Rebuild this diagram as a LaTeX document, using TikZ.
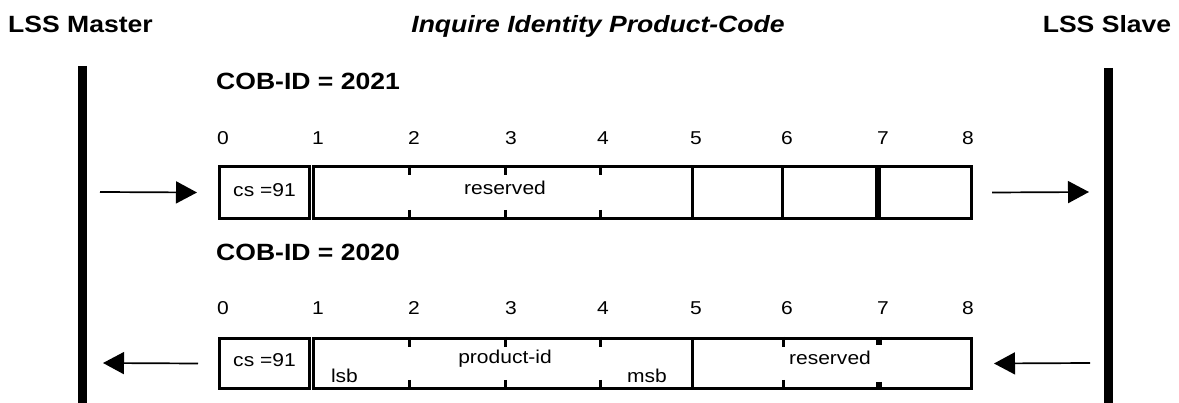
\documentclass[tikz,border=0pt]{standalone}
\usepackage{fontspec}
\setmainfont{Liberation Sans}[FakeStretch=1.13]
\usetikzlibrary{arrows.meta,fit}

\tikzset{
  cellbox/.style={draw=black, line width=3.4pt, inner sep=0pt},
  sep/.style={line width=3.4pt},
  lifeline/.style={line width=9.5pt},
  msg/.style={line width=1.7pt, -{Triangle[length=21pt 0 0,width=22pt 0 0]}},
  head/.style={font=\fontsize{23.5}{28}\selectfont\bfseries, inner sep=0pt},
  titlefont/.style={font=\fontsize{23.5}{28}\selectfont\bfseries\itshape, inner sep=0pt},
  lbl/.style={font=\fontsize{18.6}{22}\selectfont, inner sep=0pt},
}

\begin{document}
\begin{tikzpicture}[x=1pt,y=-1pt]
\useasboundingbox (0,0) rectangle (1179,403);

% headings
\node[head, anchor=base west] (master) at (8,33) {LSS Master};
\node[titlefont, anchor=base] (title) at (598,33) {Inquire Identity Product-Code};
\node[head, anchor=base] (slave) at (1107,33) {LSS Slave};

% lifelines
\coordinate (mtop) at (82.5,66);
\coordinate (mbot) at (82.5,403);
\coordinate (stop) at (1108.5,68);
\coordinate (sbot) at (1108.5,403);
\draw[lifeline] (mtop) -- (mbot);
\draw[lifeline] (stop) -- (sbot);

% ---------- request frame ----------
\node[head, anchor=base west] (cobreq) at (216,90) {COB-ID = 2021};
\foreach \i/\x in {0/217,1/312,2/408,3/505,4/597,5/690,6/781,7/877}
  \node[lbl, anchor=base west] (rq\i) at (\x,145) {\i};
\node[lbl, anchor=base east] (rq8) at (974,145) {8};

\node[cellbox, fit={(219.7,166.7) (309.3,218.3)}] (t0) {};
\node[cellbox, fit={(313.7,166.7) (692.5,218.3)}] (t1) {};
\node[cellbox, fit={(692.5,166.7) (782.5,218.3)}] (t5) {};
\node[cellbox, fit={(782.5,166.7) (876.5,218.3)}] (t6) {};
\node[cellbox, fit={(879.5,166.7) (971.3,218.3)}] (t7) {};
\foreach \x in {409.5,505.5,600.5} {
  \draw[sep] (\x,165) -- (\x,175);
  \draw[sep] (\x,210) -- (\x,220);
}
\node[lbl, anchor=base] (t0txt) at (264.5,197) {cs =91};
\node[lbl, anchor=base] (t1txt) at (505,195) {reserved};

% ---------- response frame ----------
\node[head, anchor=base west] (cobres) at (216,261) {COB-ID = 2020};
\foreach \i/\x in {0/217,1/312,2/408,3/505,4/597,5/690,6/781,7/877}
  \node[lbl, anchor=base west] (rs\i) at (\x,315) {\i};
\node[lbl, anchor=base east] (rs8) at (974,315) {8};

\node[cellbox, fit={(219.7,338.7) (309.3,388.3)}] (b0) {};
\node[cellbox, fit={(313.7,338.7) (692.5,388.3)}] (b1) {};
\node[cellbox, fit={(692.5,338.7) (971.3,388.3)}] (b5) {};
\foreach \x in {409.5,505.5,600.5,783.5} {
  \draw[sep] (\x,337) -- (\x,347);
  \draw[sep] (\x,380) -- (\x,390);
}
\draw[sep, line width=6pt] (878.5,337) -- (878.5,345);
\draw[sep, line width=6pt] (878.5,382) -- (878.5,390);
\node[lbl, anchor=base] (b0txt) at (264.5,367) {cs =91};
\node[lbl, anchor=base] (lsb) at (344.5,383) {lsb};
\node[lbl, anchor=base] (pid) at (505,364) {product-id};
\node[lbl, anchor=base] (msb) at (647,383) {msb};
\node[lbl, anchor=base] (b5txt) at (830,365) {reserved};

% ---------- messages ----------
\coordinate (reqfrom) at (100,192);
\coordinate (reqto) at (1089,192);
\coordinate (resfrom) at (1090,363);
\coordinate (resto) at (103,363);
\draw[msg] (reqfrom) -- ([xshift=-21pt]t0.west);
\draw[msg] ([xshift=19pt]t7.east) -- (reqto);
\draw[msg] (resfrom) -- ([xshift=21pt]b5.east);
\draw[msg] ([xshift=-20pt]b0.west) -- (resto);
\end{tikzpicture}
\end{document}
